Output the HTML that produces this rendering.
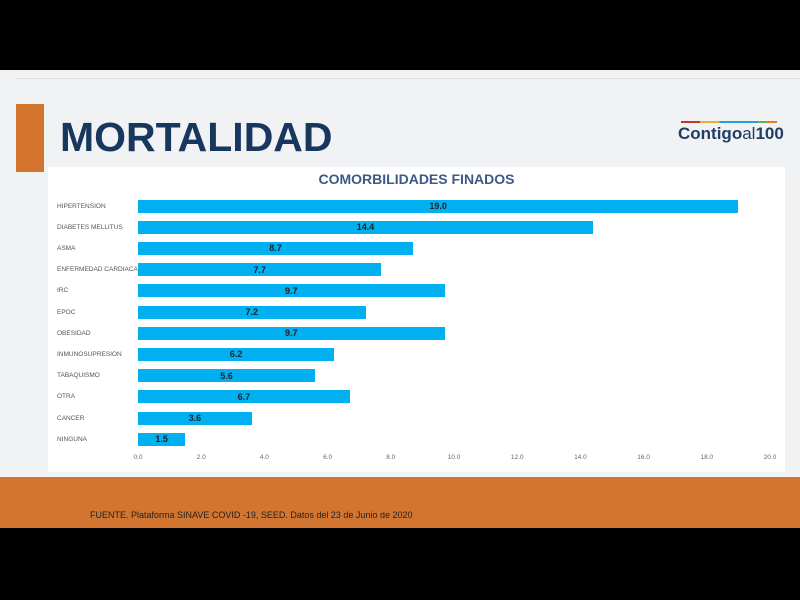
<!DOCTYPE html>
<html><head><meta charset="utf-8"><style>
body{margin:0;width:800px;height:600px;background:#000;position:relative;overflow:hidden;font-family:"Liberation Sans",sans-serif}
.slide{position:absolute;left:0;top:70px;width:800px;height:458px;background:#f1f2f3}
.topline{position:absolute;left:16px;top:78px;width:784px;height:1px;background:#ddd}
.obar{position:absolute;left:16px;top:104px;width:28px;height:68px;background:#d4732c}
.title{position:absolute;left:60px;top:114px;font-size:41px;font-weight:bold;color:#17375e;letter-spacing:0px}
.logo{position:absolute;left:678px;top:124px;font-size:17px;font-weight:bold;color:#1f3d66}
.chart{position:absolute;left:48px;top:167px;width:737px;height:305px;background:#fff}
.ctitle{position:absolute;left:0;width:737px;top:4px;text-align:center;font-size:14px;font-weight:bold;color:#3c5a85}
.lab{position:absolute;left:10px;font-size:6.5px;color:#555}
.bar{position:absolute;left:90px;height:13px;background:#00b0f0}
.val{position:absolute;font-size:9px;font-weight:bold;color:#222;text-align:center;width:40px}
.tick{position:absolute;top:287px;font-size:6.5px;color:#666;width:30px;text-align:center}
.footer{position:absolute;left:0;top:477px;width:800px;height:51px;background:#d27530}
.src{position:absolute;left:90px;top:510px;font-size:9px;color:#222}
</style></head><body>
<div class="slide"></div><div class="topline"></div>
<div class="obar"></div>
<div class="title">MORTALIDAD</div>
<div class="logo"><div style="position:absolute;top:-3px;left:3px;width:96px;height:2px;background:linear-gradient(90deg,#c0392b 0 20%,#e6b030 20% 40%,#2a9fd6 40% 80%,#6ab04c 80% 90%,#e67e22 90%)"></div>Contigo<span style="font-weight:normal">al</span>100</div>
<div class="chart">
<div class="ctitle">COMORBILIDADES FINADOS</div>
</div>
<div class="footer"></div>
<div class="src">FUENTE. Plataforma SINAVE COVID -19, SEED. Datos del 23 de Junio de 2020</div>
<div id="bars"></div>
<script>
var d=[["HIPERTENSION",19.0],["DIABETES MELLITUS",14.4],["ASMA",8.7],["ENFERMEDAD CARDIACA",7.7],["IRC",9.7],["EPOC",7.2],["OBESIDAD",9.7],["INMUNOSUPRESION",6.2],["TABAQUISMO",5.6],["OTRA",6.7],["CANCER",3.6],["NINGUNA",1.5]];
var h="";
d.forEach(function(r,i){var y=199.5+i*21.2;var w=r[1]*31.6;
h+='<div class="lab" style="left:57px;top:'+(y+3)+'px;position:absolute">'+r[0]+'</div>';
h+='<div class="bar" style="left:138px;top:'+y+'px;width:'+w+'px"></div>';
h+='<div class="val" style="left:'+(138+w/2-20)+'px;top:'+(y+1.5)+'px">'+r[1].toFixed(1)+'</div>';});
for(var t=0;t<=20;t+=2){h+='<div class="tick" style="left:'+(138+t*31.6-15)+'px;top:454px">'+t.toFixed(1)+'</div>';}
document.getElementById("bars").innerHTML=h;
</script>
</body></html>
